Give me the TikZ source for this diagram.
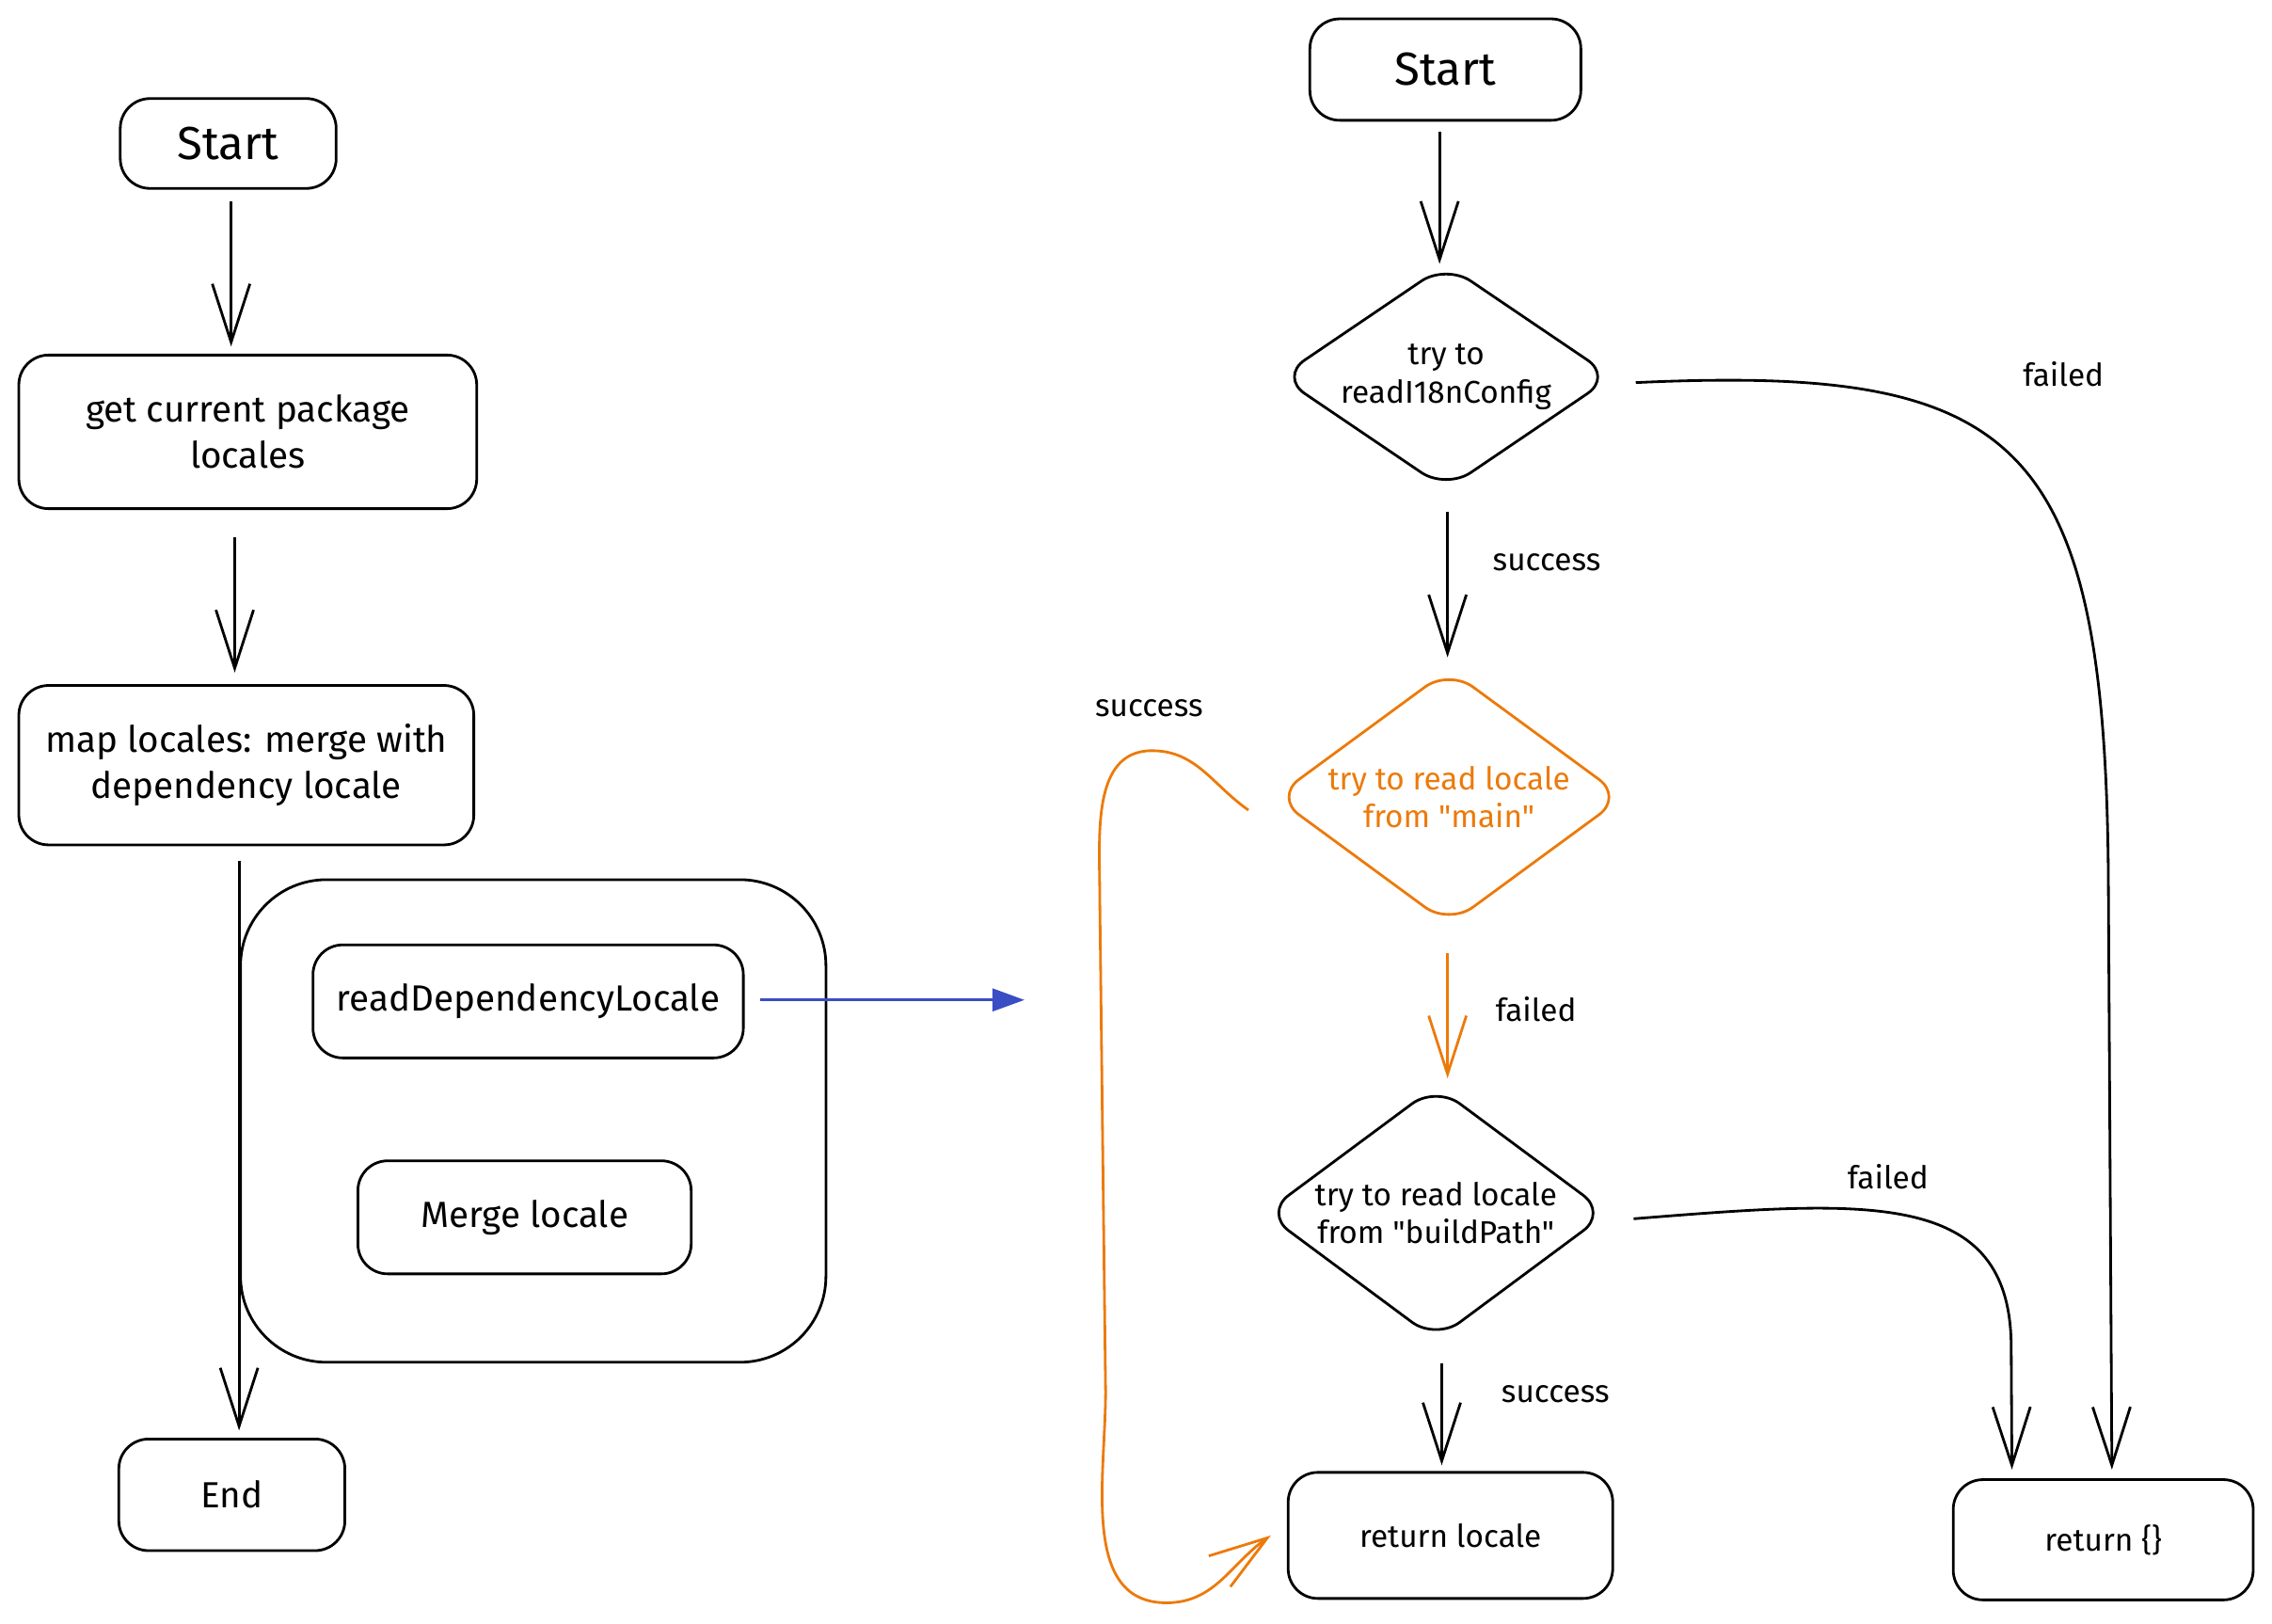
\documentclass[tikz,border=0pt]{standalone}
\usepackage{fontspec}
\setmainfont{Fira Sans}[Ligatures=TeXOff]
\usepackage{tikz}
\usetikzlibrary{arrows.meta,positioning,shapes.geometric,calc}
\definecolor{sketchorange}{RGB}{236,122,10}
\definecolor{sketchblue}{RGB}{58,77,196}
\newlength{\px}
\setlength{\px}{0.154mm}

\begin{document}
\begin{tikzpicture}[
    x=0.154mm, y=-0.154mm,
    line width=0.8pt,
    >={Straight Barb[length=6.2mm,width=4mm]},
    box/.style={draw, rounded corners=9pt, align=center, inner sep=0pt,
                font=\fontsize{11}{14}\selectfont},
    startbox/.style={box, font=\fontsize{14}{16}\selectfont},
    smallbox/.style={box, font=\fontsize{9.5}{12}\selectfont},
    dec/.style={draw, diamond, rounded corners=9pt, inner sep=0pt},
    dectext/.style={align=center, font=\fontsize{9.5}{11.5}\selectfont},
    lbl/.style={font=\fontsize{9.5}{12}\selectfont, inner sep=1pt}
]
    \useasboundingbox (0,0) rectangle (1568,1120);

    \node[startbox, minimum width=149\px, minimum height=62\px] (S1) at (157.5,99) {Start};
    \node[box, minimum width=316\px, minimum height=106\px] (A1) at (171,298) {get current package\\locales};
    \node[box, minimum width=314\px, minimum height=110\px] (A2) at (170,528) {map locales: merge with\\dependency locale};
    \node[box, rounded corners=26pt, minimum width=404\px, minimum height=333\px] (grp) at (368,773.5) {};
    \node[box, minimum width=297\px, minimum height=78\px] (R) at (364.5,691) {readDependencyLocale};
    \node[box, minimum width=230\px, minimum height=78\px] (M) at (362,840) {Merge locale};
    \node[box, minimum width=156\px, minimum height=77\px] (E) at (160,1031.5) {End};
    \coordinate (blueend) at (707,690);

    \node[startbox, minimum width=187\px, minimum height=70\px] (S2) at (997.5,48) {Start};
    \node[dec, minimum width=230\px, minimum height=156\px,
          label={[dectext]center:try to\\readI18nConfig}] (D1) at (998,260) {};
    \node[dec, draw=sketchorange, minimum width=241\px, minimum height=177\px,
          label={[dectext, text=sketchorange]center:try to read locale\\from "main"}] (D2) at (1000,550) {};
    \node[dec, minimum width=237\px, minimum height=176\px,
          label={[dectext]center:try to read locale\\from "buildPath"}] (D3) at (991,837) {};
    \node[smallbox, minimum width=224\px, minimum height=87\px] (RL) at (1001,1059.5) {return locale};
    \node[smallbox, minimum width=207\px, minimum height=83\px] (RE) at (1451.5,1062.5) {return \{\}};

    \draw[->] ([xshift=2\px,yshift=-8\px]S1.south) -- ([xshift=2\px,yshift=5\px]S1.south |- A1.north);
    \draw[->] ([xshift=-9\px,yshift=-19\px]A1.south) -- ([xshift=-9\px,yshift=8\px]A1.south |- A2.north);
    \draw[->] ([xshift=-5\px,yshift=-10\px]A2.south) -- ([xshift=-5\px,yshift=5\px]A2.south |- E.north);
    \draw[sketchblue, -{Triangle[length=3.4mm,width=2.4mm]}] ([xshift=11\px,yshift=1\px]R.east) -- (blueend);

    \draw[->] ([xshift=-4\px,yshift=-7\px]S2.south) -- ([xshift=-4\px,yshift=-1\px]S2.south |- D1.north);
    \draw[->] ([xshift=1\px,yshift=-14\px]D1.south) -- node[lbl, pos=0.35, right=28\px] (ls1) {success}
        ([xshift=1\px,yshift=7\px]D1.south |- D2.north);
    \draw[->, sketchorange] ([xshift=-1\px,yshift=-18\px]D2.south) -- node[lbl, text=black, pos=0.45, right=30\px] (lf2) {failed}
        ([xshift=-1\px,yshift=4\px]D2.south |- D3.north);
    \draw[->] ([xshift=4\px,yshift=-15\px]D3.south) -- node[lbl, pos=0.3, right=38\px] (ls3) {success}
        ([xshift=4\px,yshift=4\px]D3.south |- RL.north);

    \draw[->] ([xshift=15\px,yshift=-4\px]D1.east) .. controls (1390,252) and (1452,300) .. (1455,600)
        -- ([xshift=6\px,yshift=6\px]RE.north);
    \node[lbl] (lf1) at (1424,258) {failed};
    \draw[->] ([xshift=17\px,yshift=-4\px]D3.east) .. controls (1290,828) and (1388,820) .. (1388,930)
        -- ([xshift=-63\px,yshift=6\px]RE.north);
    \node[lbl] (lf3) at (1303,812) {failed};
    \draw[->, sketchorange] ([xshift=-17\px,yshift=-9\px]D2.west) to[out=145,in=0] (795,518)
        to[out=180,in=90] (759,620) -- (763,960) to[out=-90,in=180] (805,1106)
        to[out=0,in=215] ([xshift=-11\px]RL.west);
    \node[lbl] (ls2) at (793,489) {success};
\end{tikzpicture}
\end{document}
